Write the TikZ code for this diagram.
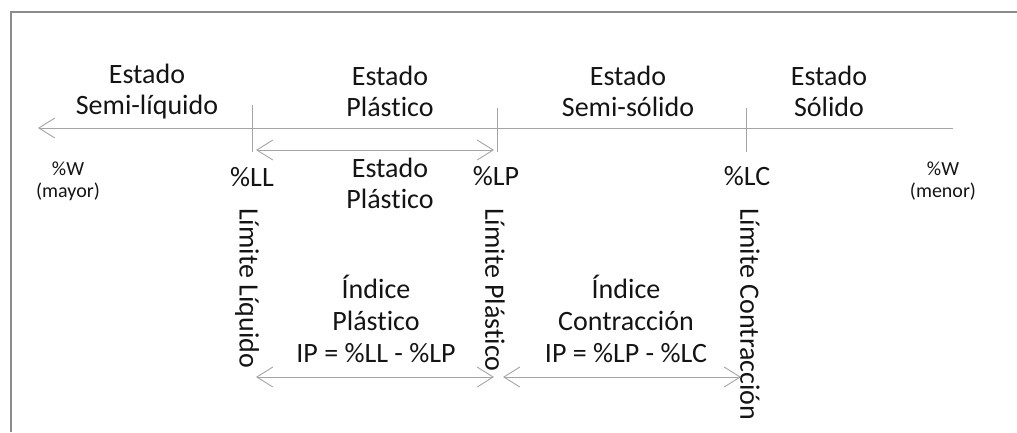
\documentclass[tikz,border=0pt]{standalone}
\usepackage{fontspec}
\setmainfont{Carlito}[Ligatures={NoCommon,NoRare}]
\usetikzlibrary{arrows.meta}

\definecolor{txt}{RGB}{20,20,20}
\definecolor{linegray}{RGB}{165,165,165}
\definecolor{framegray}{RGB}{140,140,140}

\tikzset{
    line/.style={draw=linegray, line width=0.9pt},
    big/.style={font=\fontsize{28}{31}\selectfont, align=center, inner sep=0pt, anchor=base, text=txt},
    small/.style={font=\fontsize{20}{22}\selectfont, align=center, inner sep=0pt, anchor=base, text=txt},
    vlabel/.style={font=\fontsize{28}{31}\selectfont, inner sep=0pt, rotate=-90, anchor=west, text=txt}
}

\begin{document}
\begin{tikzpicture}[x=1pt, y=-1pt, >={Straight Barb[length=16pt,width=20pt]}]
    \useasboundingbox (0,0) rectangle (1017,432);

    % Frame
    \draw[framegray, line width=1.2pt] (11,432) -- (11,12) -- (1017,12);

    % Axis of water content
    \coordinate (wmax) at (38,128);
    \coordinate (wmin) at (953,128);
    \draw[line, ->] (wmin) -- (wmax);

    % Limits
    \foreach \n/\x/\t in {LL/252/105, LP/497/108, LC/746/108} {
        \coordinate (\n top) at (\x,\t);
        \coordinate (\n bot) at (\x,152);
        \draw[line] (\n top) -- (\n bot);
    }

    % States (base = last line)
    \node[big] (sliq) at (147,114) {Estado\\Semi-líquido};
    \node[big] (plas) at (390,116) {Estado\\Plástico};
    \node[big] (ssol) at (628,116) {Estado\\Semi-sólido};
    \node[big] (sol) at (829,116) {Estado\\Sólido};

    \node[small] (wmay) at (68,197) {\%W\\(mayor)};
    \node[small] (wmen) at (943,197) {\%W\\(menor)};

    \node[big] (LL) at (252,186) {\%LL};
    \node[big] (LP) at (496,185) {\%LP};
    \node[big] (LC) at (747,185) {\%LC};

    % Plastic range
    \coordinate (pl1) at (256,150);
    \coordinate (pl2) at (494,150);
    \draw[line, <->] (pl1) -- (pl2);
    \node[big] (plas2) at (390,208) {Estado\\Plástico};

    % Limit names
    \node[vlabel] (limL) at (247,208) {Límite Líquido};
    \node[vlabel] (limP) at (495,208) {Límite Plástico};
    \node[vlabel] (limC) at (750,208) {Límite Contracción};

    % Indices
    \coordinate (ip1) at (256,377);
    \coordinate (ip2) at (494,377);
    \coordinate (ic1) at (503,377);
    \coordinate (ic2) at (741,377);
    \draw[line, <->] (ip1) -- (ip2);
    \draw[line, <->] (ic1) -- (ic2);

    \node[big] (ip) at (376,362) {Índice\\[1pt]Plástico\\[1pt]IP = \%LL - \%LP};
    \node[big] (ic) at (626,362) {Índice\\[1pt]Contracción\\[1pt]IP = \%LP - \%LC};
\end{tikzpicture}
\end{document}
